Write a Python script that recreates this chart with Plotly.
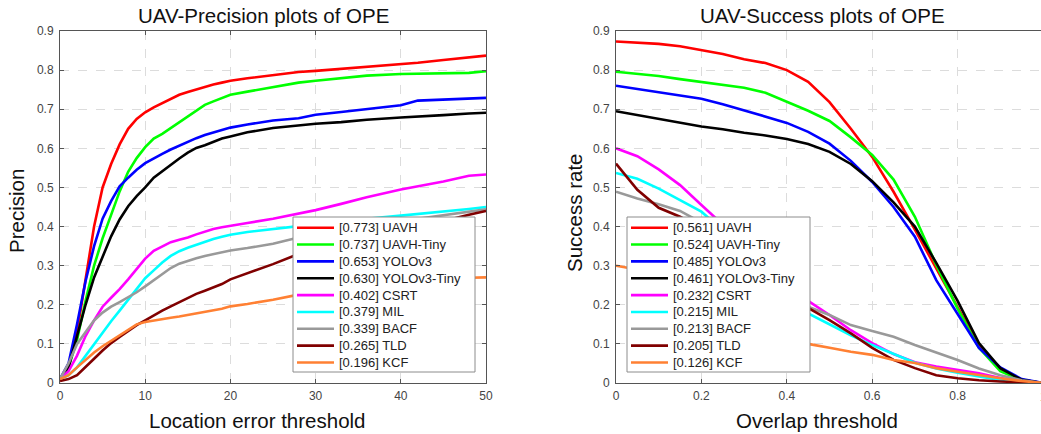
import plotly.graph_objects as go

# Tracker names and their summary scores shown in the legends
trackers = ["UAVH", "UAVH-Tiny", "YOLOv3", "YOLOv3-Tiny", "CSRT", "MIL", "BACF", "TLD", "KCF"]
precision_scores = [0.773, 0.737, 0.653, 0.630, 0.402, 0.379, 0.339, 0.265, 0.196]
success_scores = [0.561, 0.524, 0.485, 0.461, 0.232, 0.215, 0.213, 0.205, 0.126]
colors = ["#ff0000", "#00ff00", "#0000ff", "#000000", "#ff00ff",
          "#00ffff", "#999999", "#800000", "#ff8033"]

# Precision plot: location error threshold (pixels)
err_thresh = [0, 1, 2, 3, 4, 5, 6, 7, 8, 9, 10, 11, 12, 13, 14, 15, 16, 17, 18, 19, 20,
              22, 25, 28, 30, 33, 36, 40, 42, 45, 48, 50]
prec_uavh = [0.01, 0.04, 0.13, 0.27, 0.40, 0.50, 0.56, 0.61, 0.65, 0.675, 0.692, 0.705, 0.716,
             0.728, 0.737, 0.744, 0.751, 0.757, 0.763, 0.768, 0.773,
             0.779, 0.787, 0.795, 0.798, 0.803, 0.808, 0.815, 0.819, 0.826, 0.833, 0.837]
prec_uavh_tiny = [0.01, 0.04, 0.11, 0.21, 0.30, 0.37, 0.43, 0.49, 0.54, 0.575, 0.603, 0.625, 0.637,
                  0.652, 0.667, 0.683, 0.698, 0.711, 0.720, 0.729, 0.737,
                  0.745, 0.757, 0.768, 0.773, 0.780, 0.786, 0.790, 0.791, 0.792, 0.793, 0.797]
prec_yolov3 = [0.01, 0.05, 0.15, 0.26, 0.35, 0.42, 0.465, 0.503, 0.525, 0.545, 0.562, 0.575, 0.586,
               0.597, 0.607, 0.616, 0.626, 0.634, 0.641, 0.648, 0.653,
               0.661, 0.671, 0.677, 0.686, 0.693, 0.701, 0.710, 0.722, 0.725, 0.728, 0.729]
prec_yolov3_tiny = [0.01, 0.04, 0.12, 0.20, 0.27, 0.325, 0.375, 0.418, 0.452, 0.478, 0.500, 0.525, 0.542,
                    0.558, 0.574, 0.589, 0.601, 0.608, 0.616, 0.625, 0.630,
                    0.641, 0.652, 0.659, 0.663, 0.667, 0.673, 0.679, 0.681, 0.685, 0.689, 0.691]
prec_csrt = [0.01, 0.03, 0.07, 0.12, 0.16, 0.195, 0.218, 0.24, 0.265, 0.293, 0.318, 0.338, 0.350,
             0.360, 0.366, 0.372, 0.380, 0.388, 0.394, 0.398, 0.402,
             0.409, 0.420, 0.433, 0.442, 0.458, 0.475, 0.495, 0.503, 0.515, 0.530, 0.533]
prec_mil = [0.01, 0.02, 0.04, 0.07, 0.10, 0.13, 0.158, 0.185, 0.212, 0.24, 0.268, 0.288, 0.308,
            0.325, 0.337, 0.346, 0.354, 0.361, 0.368, 0.374, 0.379,
            0.386, 0.394, 0.401, 0.405, 0.413, 0.420, 0.428, 0.432, 0.438, 0.445, 0.450]
prec_bacf = [0.01, 0.05, 0.10, 0.13, 0.16, 0.18, 0.195, 0.207, 0.219, 0.232, 0.247, 0.263, 0.278,
             0.294, 0.305, 0.313, 0.319, 0.325, 0.330, 0.335, 0.339,
             0.345, 0.356, 0.372, 0.381, 0.392, 0.402, 0.414, 0.420, 0.429, 0.438, 0.444]
prec_tld = [0.005, 0.01, 0.02, 0.04, 0.062, 0.083, 0.102, 0.118, 0.133, 0.148, 0.160, 0.173, 0.185,
            0.196, 0.207, 0.218, 0.228, 0.236, 0.244, 0.253, 0.265,
            0.280, 0.304, 0.330, 0.341, 0.357, 0.372, 0.390, 0.400, 0.414, 0.430, 0.440]
prec_kcf = [0.01, 0.02, 0.04, 0.06, 0.078, 0.094, 0.108, 0.122, 0.137, 0.150, 0.156, 0.160, 0.163,
            0.167, 0.170, 0.174, 0.178, 0.181, 0.185, 0.190, 0.196,
            0.202, 0.213, 0.226, 0.232, 0.240, 0.247, 0.255, 0.259, 0.265, 0.269, 0.270]

# Success plot: overlap threshold
overlap_thresh = [0.0, 0.05, 0.1, 0.15, 0.2, 0.25, 0.3, 0.35, 0.4, 0.45, 0.5,
                  0.55, 0.6, 0.65, 0.7, 0.75, 0.8, 0.85, 0.9, 0.95, 1.0]
succ_uavh = [0.873, 0.870, 0.867, 0.861, 0.851, 0.841, 0.828, 0.818, 0.800, 0.770, 0.718,
             0.650, 0.578, 0.489, 0.392, 0.294, 0.193, 0.095, 0.035, 0.008, 0.0]
succ_uavh_tiny = [0.796, 0.790, 0.785, 0.777, 0.770, 0.762, 0.755, 0.742, 0.720, 0.696, 0.670,
                  0.628, 0.583, 0.520, 0.425, 0.302, 0.190, 0.090, 0.030, 0.007, 0.0]
succ_yolov3 = [0.760, 0.752, 0.744, 0.736, 0.727, 0.713, 0.697, 0.682, 0.665, 0.642, 0.612,
               0.568, 0.514, 0.450, 0.374, 0.263, 0.178, 0.090, 0.040, 0.010, 0.0]
succ_yolov3_tiny = [0.695, 0.685, 0.676, 0.665, 0.656, 0.649, 0.640, 0.633, 0.624, 0.611, 0.591,
                    0.560, 0.516, 0.462, 0.400, 0.307, 0.210, 0.102, 0.038, 0.008, 0.0]
succ_csrt = [0.600, 0.580, 0.546, 0.506, 0.455, 0.405, 0.355, 0.305, 0.255, 0.210, 0.174,
             0.135, 0.102, 0.074, 0.053, 0.042, 0.033, 0.025, 0.013, 0.004, 0.0]
succ_mil = [0.537, 0.522, 0.497, 0.468, 0.438, 0.390, 0.338, 0.285, 0.232, 0.178, 0.150,
            0.122, 0.097, 0.074, 0.052, 0.037, 0.026, 0.017, 0.008, 0.003, 0.0]
succ_bacf = [0.489, 0.472, 0.457, 0.440, 0.410, 0.370, 0.320, 0.270, 0.225, 0.195, 0.174,
             0.148, 0.133, 0.118, 0.097, 0.078, 0.059, 0.037, 0.020, 0.007, 0.0]
succ_tld = [0.561, 0.494, 0.448, 0.425, 0.395, 0.360, 0.320, 0.280, 0.232, 0.192, 0.161,
            0.127, 0.090, 0.059, 0.038, 0.020, 0.012, 0.007, 0.004, 0.002, 0.0]
succ_kcf = [0.300, 0.290, 0.275, 0.260, 0.240, 0.215, 0.190, 0.160, 0.130, 0.100, 0.090,
            0.080, 0.072, 0.059, 0.051, 0.038, 0.029, 0.020, 0.012, 0.005, 0.0]

precision_curves = [prec_uavh, prec_uavh_tiny, prec_yolov3, prec_yolov3_tiny, prec_csrt,
                    prec_mil, prec_bacf, prec_tld, prec_kcf]
success_curves = [succ_uavh, succ_uavh_tiny, succ_yolov3, succ_yolov3_tiny, succ_csrt,
                  succ_mil, succ_bacf, succ_tld, succ_kcf]

W, H = 1041, 434
FONT = "Liberation Sans, Arial, Helvetica, sans-serif"
LINE_W = 2.6

fig = go.Figure()

for color, ys in zip(colors, precision_curves):
    fig.add_trace(go.Scatter(x=err_thresh, y=ys, mode="lines", showlegend=False,
                             line=dict(color=color, width=LINE_W), xaxis="x", yaxis="y"))

for color, ys in zip(colors, success_curves):
    fig.add_trace(go.Scatter(x=overlap_thresh, y=ys, mode="lines", showlegend=False,
                             line=dict(color=color, width=LINE_W), xaxis="x2", yaxis="y2"))

# pixel layout of the two panels
L_LEFT, L_RIGHT = 60, 486
R_LEFT, R_RIGHT_FULL = 616, 1043
TOP, BOTTOM = 31, 383
ydom = [(H - BOTTOM) / H, (H - TOP) / H]

axis_common = dict(
    showline=True, linecolor="#555555", linewidth=1,
    ticks="inside", ticklen=4, tickcolor="#555555",
    showgrid=True, gridcolor="#dcdcdc", griddash="dash", gridwidth=1,
    zeroline=False, automargin=False,
    tickfont=dict(family=FONT, size=12, color="#444444"),
)

# right panel continues past the canvas edge; show only the visible part
r_visible = (W - R_LEFT) / (R_RIGHT_FULL - R_LEFT)

fig.update_layout(
    width=W, height=H,
    margin=dict(l=0, r=0, t=0, b=0, autoexpand=False),
    paper_bgcolor="white", plot_bgcolor="white",
    font=dict(family=FONT),
    showlegend=False,
    xaxis=dict(domain=[L_LEFT / W, L_RIGHT / W], range=[0, 50],
               tickvals=[0, 10, 20, 30, 40, 50], mirror="ticks", anchor="y",
               ticklabelstandoff=2, **axis_common),
    yaxis=dict(domain=ydom, range=[0, 0.9], dtick=0.1, tick0=0, mirror="ticks",
               anchor="x", ticklabelstandoff=3, **axis_common),
    xaxis2=dict(domain=[R_LEFT / W, 1.0], range=[0, r_visible],
                tickvals=[0, 0.2, 0.4, 0.6, 0.8], ticktext=["0", "0.2", "0.4", "0.6", "0.8"],
                mirror=True, anchor="y2", ticklabelstandoff=2, **axis_common),
    yaxis2=dict(domain=ydom, range=[0, 0.9], dtick=0.1, tick0=0, mirror=False,
                anchor="x2", ticklabelstandoff=3, **axis_common),
)


def px_x(x):
    return x / W


def px_y(y):
    return 1 - y / H


def text(x, y, s, size, angle=0, color="#111111", anchor="center"):
    fig.add_annotation(x=px_x(x), y=px_y(y), xref="paper", yref="paper", text=s,
                       showarrow=False, textangle=angle, xanchor=anchor, yanchor="middle",
                       font=dict(family=FONT, size=size, color=color))


def legend_box(left, top, width, height, scores):
    """Boxed legend with a line key and '[score] name' label for each tracker."""
    fig.add_shape(type="rect", xref="paper", yref="paper", layer="above",
                  x0=px_x(left), x1=px_x(left + width), y0=px_y(top + height), y1=px_y(top),
                  line=dict(color="#8c8c8c", width=1), fillcolor="white")
    pitch = 16.85
    for i, (name, score, color) in enumerate(zip(trackers, scores, colors)):
        cy = top + 10.7 + i * pitch
        fig.add_shape(type="line", xref="paper", yref="paper", layer="above",
                      x0=px_x(left + 4), x1=px_x(left + 41), y0=px_y(cy), y1=px_y(cy),
                      line=dict(color=color, width=LINE_W))
        text(left + 44, cy, f"[{score:.3f}] {name}", 13, color="#222222", anchor="left")


legend_box(293, 217, 182, 155, precision_scores)
legend_box(627, 217, 183, 155, success_scores)

text(263, 15, "UAV-Precision plots of OPE", 20.5)
text(822, 15, "UAV-Success plots of OPE", 20.5)
text(257, 420, "Location error threshold", 20.5)
text(817, 420, "Overlap threshold", 20.5)
text(17, 211, "Precision", 20.5, angle=-90)
text(574, 213, "Success rate", 20.5, angle=-90)
# last tick label of the right panel sits on the canvas edge
text(1043, 397, "1", 12, color="#444444")

fig.write_html("out.html")
